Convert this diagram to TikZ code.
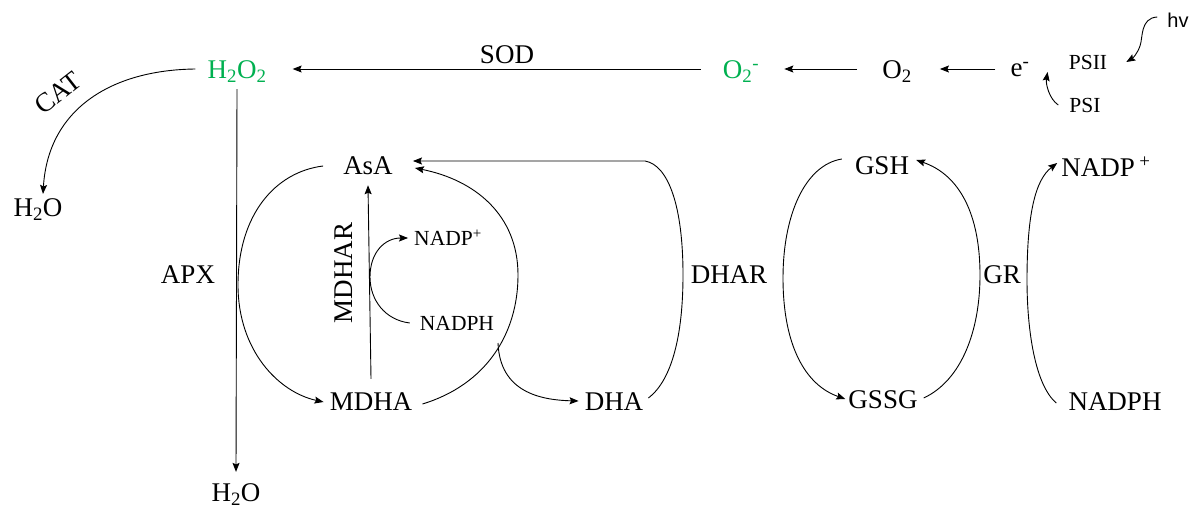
\documentclass[tikz,border=0pt]{standalone}
\usepackage{fontspec}
\setmainfont{Liberation Serif}
\newfontfamily\hvfont{Liberation Sans}
\usetikzlibrary{arrows.meta}
\definecolor{rosgreen}{RGB}{0,176,80}
\begin{document}
\begin{tikzpicture}[x=1pt,y=-1pt,
  lbl/.style={font=\fontsize{27}{29}\selectfont, inner sep=0pt},
  sml/.style={font=\fontsize{21.5}{23}\selectfont, inner sep=0pt},
  arr/.style={-{Stealth[length=9pt,width=7pt,inset=1.5pt]}, line width=0.9pt},
  ln/.style={line width=0.9pt}]
\useasboundingbox (0,0) rectangle (1199,508);
% nodes
\node[lbl, text=rosgreen] (h2o2) at (237,72) {H\textsubscript{2}O\textsubscript{2}};
\node[lbl] (sod) at (507,55) {SOD};
\node[lbl, text=rosgreen] (o2m) at (741,72) {O\textsubscript{2}\textsuperscript{-}};
\node[lbl] (o2) at (897,72) {O\textsubscript{2}};
\node[lbl] (em) at (1020,70) {e\textsuperscript{-}};
\node[sml] (psii) at (1088,62) {PSII};
\node[sml] (psi) at (1085,105) {PSI};
\node[font=\hvfont\fontsize{20}{22}\selectfont, inner sep=0pt] (hv) at (1178,20) {hv};
\node[lbl, rotate=38] (cat) at (58,93) {CAT};
\node[lbl] (h2oL) at (38,210) {H\textsubscript{2}O};
\node[lbl] (h2oB) at (236,495) {H\textsubscript{2}O};
\node[lbl] (apx) at (188,275) {APX};
\node[lbl] (asa) at (368,166) {AsA};
\node[lbl] (mdha) at (371,402) {MDHA};
\node[lbl, rotate=90] (mdhar) at (344,273) {MDHAR};
\node[sml] (nadpA) at (448,238) {NADP\textsuperscript{+}};
\node[sml] (nadphA) at (457,323) {NADPH};
\node[lbl] (dha) at (614,402) {DHA};
\node[lbl] (dhar) at (729,275) {DHAR};
\node[lbl] (gsh) at (882,166) {GSH};
\node[lbl] (gssg) at (883,400) {GSSG};
\node[lbl] (gr) at (1002,275) {GR};
\node[lbl] (nadpB) at (1106,167) {NADP\,\textsuperscript{+}};
\node[lbl] (nadphB) at (1115,402) {NADPH};
% top row
\draw[arr] ([xshift=-22pt,yshift=3pt]o2m.west) -- ([xshift=26pt,yshift=3pt]h2o2.east);
\draw[arr] ([xshift=-25pt,yshift=3pt]o2.west) -- ([xshift=25pt,yshift=3pt]o2m.east);
\draw[arr] ([xshift=-15pt,yshift=1pt]em.west) -- ([xshift=28pt,yshift=3pt]o2.east);
\draw[arr] ([xshift=-11pt]psi.west) .. controls +(-9,-6) and +(-2,12) .. ([xshift=18pt,yshift=-2pt]em.east);
\draw[arr] ([xshift=-10pt,yshift=3pt]hv.west) .. controls (1140,18) and (1143,38) .. (1140,46) .. controls (1137,54) and (1133,58) .. ([xshift=19pt]psii.east);
% CAT and vertical
\draw[arr] ([xshift=-12pt,yshift=3pt]h2o2.west) .. controls (110,70) and (48,110) .. ([xshift=5pt,yshift=5pt]h2oL.north);
\draw[arr] ([yshift=-6pt]h2o2.south) -- ([yshift=12pt]h2oB.north);
% ascorbate cycle
\draw[arr] ([xshift=-20pt]asa.west) .. controls (275,172) and (238,215) .. (238,285) .. controls (238,350) and (278,392) .. ([xshift=-6pt]mdha.west);
\draw[arr] ([yshift=14pt]mdha.north) -- ([xshift=0pt,yshift=-10pt]asa.south);
\draw[arr] ([xshift=-10pt]nadphA.west) .. controls (385,320) and (370,300) .. (370,277) .. controls (370,252) and (385,238) .. ([xshift=-6pt]nadpA.west);
\draw[arr] ([xshift=10pt,yshift=-2pt]mdha.east) .. controls (485,385) and (518,335) .. (518,275) .. controls (518,215) and (475,180) .. ([xshift=22pt,yshift=-2pt]asa.east);
\coordinate (br) at (498,343);
\draw[arr] (br) .. controls (500,392) and (540,400) .. ([xshift=-6pt,yshift=1pt]dha.west);
\draw[arr] ([xshift=5pt,yshift=4pt]dha.east) .. controls (672,380) and (683,335) .. (683,275) .. controls (683,205) and (668,165) .. (645,161) -- ([xshift=20pt,yshift=5pt]asa.east);
% glutathione cycle
\draw[arr] ([xshift=-13pt,yshift=7pt]gsh.west) .. controls (805,165) and (783,215) .. (783,278) .. controls (783,345) and (805,385) .. ([xshift=-3pt,yshift=1pt]gssg.west);
\draw[arr] ([xshift=6pt,yshift=2pt]gssg.east) .. controls (962,380) and (980,330) .. (980,275) .. controls (980,215) and (960,175) .. ([xshift=7pt,yshift=6pt]gsh.east);
\draw[arr] ([xshift=-12pt,yshift=-1pt]nadphB.west) .. controls (1035,385) and (1027,330) .. (1027,280) .. controls (1027,215) and (1035,180) .. ([xshift=-4pt,yshift=4pt]nadpB.west);
\end{tikzpicture}
\end{document}
